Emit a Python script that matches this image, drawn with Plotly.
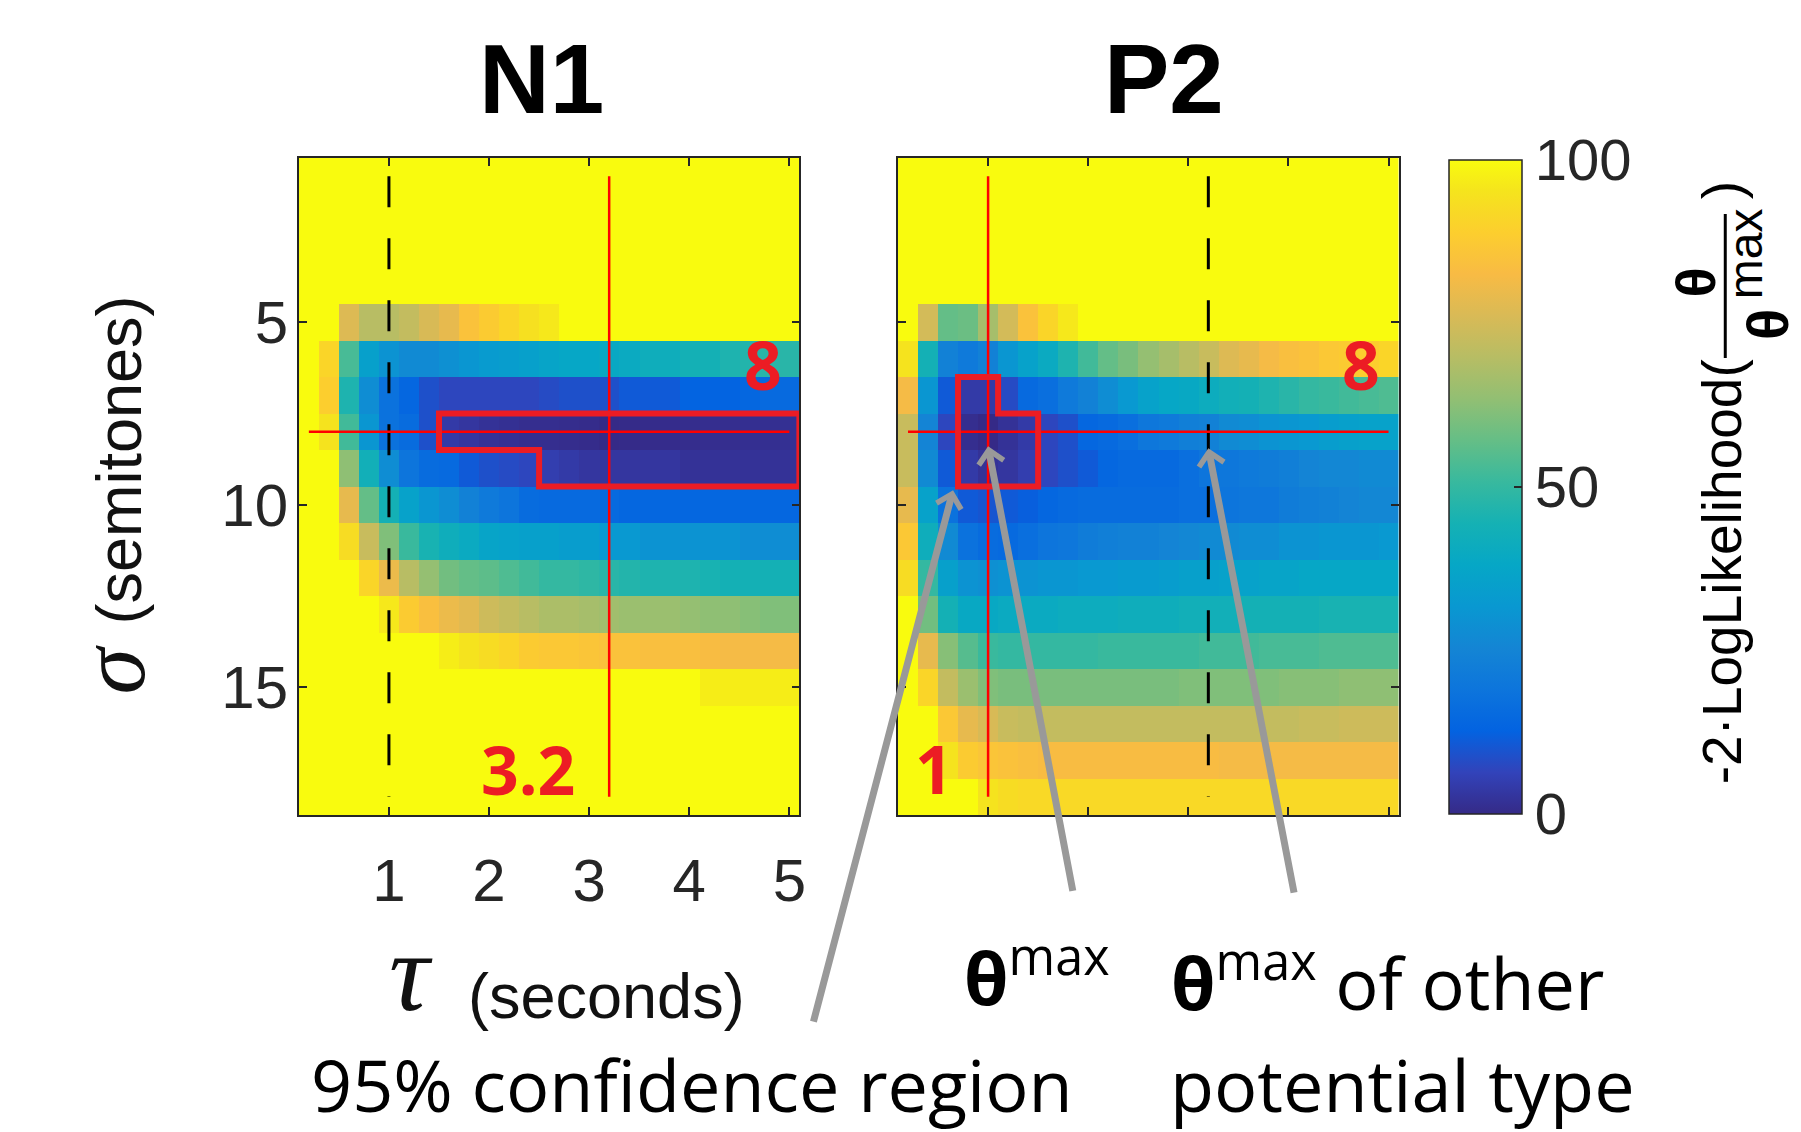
import plotly.graph_objects as go

W, H = 1801, 1132

# ---------------- data ----------------
tau = [0.2, 0.4, 0.6, 0.8, 1.0, 1.2, 1.4, 1.6, 1.8, 2.0, 2.2, 2.4, 2.6,
       2.8, 3.0, 3.2, 3.4, 3.6, 3.8, 4.0, 4.2, 4.4, 4.6, 4.8, 5.0]
sigma = [1, 2, 3, 4, 5, 6, 7, 8, 9, 10, 11, 12, 13, 14, 15, 16, 17, 18]
tau_ticks = [1, 2, 3, 4, 5]
sigma_ticks = [5, 10, 15]
cbar_ticks = [0, 50, 100]
ci_threshold = 5.99
panel_titles = ["N1", "P2"]

n1_z = [
    [100] * 25,
    [100] * 25,
    [100] * 25,
    [100] * 25,
    [100, 100, 77, 70, 70, 72, 76, 79, 85, 88, 91, 94, 96, 100, 100, 100, 100, 100, 100, 100, 100, 100, 100, 100, 100],
    [100, 91, 53, 35, 30, 27, 27, 29, 31, 33, 34, 35, 37, 38, 38, 39, 40, 42, 42, 44, 44, 46, 47, 48, 48],
    [100, 89, 46, 28, 18, 14, 9, 7, 7, 7, 7, 7, 8, 9, 9, 9, 11, 11, 11, 13, 13, 13, 14, 15, 15],
    [100, 95, 52, 31, 18, 16, 9, 4, 3, 2, 1.5, 1, 1, 0.8, 0.5, 0, 0.3, 0.5, 0.6, 0.8, 1, 1, 1.2, 1.3, 1.5],
    [100, 100, 63, 43, 28, 19, 16, 15, 11, 9, 8, 7, 5, 4, 3, 3, 3, 3, 3, 2, 2, 2, 2, 2, 2],
    [100, 100, 79, 57, 44, 36, 31, 28, 24, 21, 19, 16, 15, 15, 15, 15, 14, 14, 14, 14, 14, 14, 14, 14, 14],
    [100, 100, 93, 73, 61, 51, 45, 42, 40, 37, 36, 35, 35, 34, 34, 32, 32, 30, 30, 30, 30, 30, 28, 28, 28],
    [100, 100, 100, 91, 80, 70, 64, 59, 57, 56, 54, 52, 50, 50, 49, 48, 47, 46, 46, 46, 45, 44, 44, 44, 44],
    [100, 100, 100, 100, 96, 88, 84, 80, 78, 74, 72, 70, 68, 68, 67, 66, 65, 65, 65, 64, 63, 63, 62, 61, 61],
    [100, 100, 100, 100, 100, 100, 100, 97, 95, 93, 91, 88, 87, 87, 86, 85, 85, 84, 84, 84, 83, 82, 82, 82, 82],
    [100] * 20 + [97] * 5,
    [100] * 25,
    [100] * 25,
    [100] * 25,
]

p2_z = [
    [100] * 25,
    [100] * 25,
    [100] * 25,
    [100] * 25,
    [100, 75, 57, 58, 67, 75, 85, 91, 96, 100, 100, 100, 100, 100, 100, 100, 100, 100, 100, 100, 100, 100, 100, 100, 100],
    [95, 44, 24, 21, 24, 31, 36, 40, 46, 52, 57, 60, 64, 67, 70, 73, 77, 79, 82, 84, 85, 87, 88, 89, 91],
    [82, 31, 11, 4, 4, 8, 15, 17, 21, 24, 28, 32, 36, 38, 39, 41, 43, 44, 46, 48, 50, 51, 52, 53, 54],
    [73, 25, 7, 1, 0, 2, 4, 7, 9, 14, 15, 17, 20, 21, 23, 24, 27, 28, 30, 31, 32, 34, 35, 36, 36],
    [73, 27, 11, 4, 2, 3, 5, 7, 9, 11, 14, 15, 15, 15, 17, 19, 20, 21, 22, 23, 25, 26, 26, 27, 27],
    [79, 36, 18, 11, 10, 11, 12, 14, 15, 16, 16, 16, 16, 16, 17, 17, 19, 20, 20, 22, 23, 24, 25, 26, 26],
    [87, 42, 27, 18, 16, 15, 17, 19, 20, 22, 23, 24, 24, 25, 26, 27, 27, 28, 28, 30, 30, 31, 31, 31, 32],
    [93, 50, 35, 30, 29, 30, 30, 31, 31, 32, 32, 33, 33, 34, 35, 35, 36, 36, 37, 37, 38, 38, 38, 38, 38],
    [100, 59, 44, 39, 39, 40, 40, 40, 41, 41, 41, 42, 42, 42, 43, 43, 43, 44, 44, 44, 44, 45, 45, 45, 45],
    [100, 79, 62, 55, 51, 50, 50, 50, 50, 50, 51, 51, 51, 51, 51, 52, 52, 52, 53, 53, 53, 54, 54, 54, 54],
    [100, 91, 72, 65, 61, 60, 60, 60, 60, 60, 60, 60, 60, 60, 61, 61, 61, 61, 61, 62, 62, 62, 63, 63, 63],
    [100, 100, 87, 79, 76, 73, 72, 72, 72, 72, 72, 72, 72, 72, 72, 72, 72, 72, 72, 72, 73, 73, 74, 74, 74],
    [100, 100, 95, 88, 86, 85, 84, 83, 83, 83, 83, 83, 83, 83, 83, 83, 82, 82, 82, 82, 82, 82, 82, 82, 82],
    [100, 100, 100, 100, 95, 93, 92, 92, 92, 92, 92, 92, 92, 92, 92, 92, 92, 92, 92, 92, 92, 92, 92, 92, 92],
]

# ---------------- styles ----------------
PARULA = [
    (0.2081, 0.1663, 0.5292), (0.1959, 0.2645, 0.7279), (0.0117, 0.3875, 0.8820),
    (0.0498, 0.4586, 0.8641), (0.0793, 0.5200, 0.8312), (0.0343, 0.5966, 0.8199),
    (0.0228, 0.6535, 0.7768), (0.0843, 0.6928, 0.7062), (0.2178, 0.7250, 0.6193),
    (0.3953, 0.7459, 0.5244), (0.5709, 0.7485, 0.4494), (0.7184, 0.7411, 0.3905),
    (0.8507, 0.7299, 0.3360), (0.9739, 0.7314, 0.2666), (0.9880, 0.8066, 0.1794),
    (0.9589, 0.8949, 0.1132), (0.9763, 0.9831, 0.0538),
]
PARULA_POS = [0, 4, 8, 12, 16, 20, 24, 28, 32, 36, 40, 44, 48, 52, 56, 60, 63]
parula = [[p / 63.0, "rgb(%d,%d,%d)" % tuple(round(c * 255) for c in rgb)]
          for p, rgb in zip(PARULA_POS, PARULA)]

AX = "#262626"
RED = "#ff0000"
CI_RED = "#ec1c24"
SANS = "Liberation Sans"
SERIF = "Liberation Serif"
MYRIAD = "Open Sans"


def px(x, y):
    return x / W, 1 - y / H


def argmin_cell(z):
    v, i, j = min((v, i, j) for i, row in enumerate(z) for j, v in enumerate(row))
    return tau[j], sigma[i]


def ci_outline(z, thr):
    nr, nc = len(z), len(z[0])
    inside = [[z[i][j] < thr for j in range(nc)] for i in range(nr)]
    edges = {}

    def add(a, b):
        edges.setdefault(a, []).append(b)
        edges.setdefault(b, []).append(a)

    for i in range(nr):
        for j in range(nc):
            if not inside[i][j]:
                continue
            if i == 0 or not inside[i - 1][j]:
                add((j, i), (j + 1, i))
            if i == nr - 1 or not inside[i + 1][j]:
                add((j, i + 1), (j + 1, i + 1))
            if j == 0 or not inside[i][j - 1]:
                add((j, i), (j, i + 1))
            if j == nc - 1 or not inside[i][j + 1]:
                add((j + 1, i), (j + 1, i + 1))
    start = min(edges)
    path, prev, cur = [start], None, start
    while True:
        nb = edges[cur]
        nxt = nb[0] if nb[0] != prev else nb[1]
        if nxt == start:
            break
        path.append(nxt)
        prev, cur = cur, nxt
    path += [start, path[1]]
    dt = tau[1] - tau[0]
    ds = sigma[1] - sigma[0]
    xs = [tau[0] - dt / 2 + j * dt for j, i in path]
    ys = [sigma[0] - ds / 2 + i * ds for j, i in path]
    return xs, ys


fig = go.Figure()
panels = [(n1_z, "x", "y"), (p2_z, "x2", "y2")]
maxima = [argmin_cell(z) for z, _, _ in panels]

for k, (z, xa, ya) in enumerate(panels):
    fig.add_trace(go.Heatmap(x=tau, y=sigma, z=z, coloraxis="coloraxis",
                             xaxis=xa, yaxis=ya, hoverinfo="skip"))
    t_max, s_max = maxima[k]
    t_other = maxima[1 - k][0]
    fig.add_trace(go.Scatter(x=[t_other, t_other], y=[sigma[0], sigma[-1]], mode="lines",
                             line=dict(color="black", width=3, dash="31px,31px"),
                             xaxis=xa, yaxis=ya, showlegend=False, hoverinfo="skip"))
    fig.add_trace(go.Scatter(x=[t_max, t_max, None, tau[0], tau[-1]],
                             y=[sigma[0], sigma[-1], None, s_max, s_max], mode="lines",
                             line=dict(color=RED, width=2.5),
                             xaxis=xa, yaxis=ya, showlegend=False, hoverinfo="skip"))
    cx, cy = ci_outline(z, ci_threshold)
    fig.add_trace(go.Scatter(x=cx, y=cy, mode="lines", line=dict(color=CI_RED, width=6),
                             xaxis=xa, yaxis=ya, showlegend=False, hoverinfo="skip"))

axis_common = dict(showgrid=False, zeroline=False, showline=True, linecolor=AX, linewidth=1.5,
                   mirror="ticks", ticks="inside", ticklen=8, tickwidth=1.5, tickcolor=AX,
                   tickfont=dict(family=SANS, size=60, color=AX))
xr = [tau[0] - (tau[1] - tau[0]) / 2, tau[-1] + (tau[1] - tau[0]) / 2]
yr = [sigma[-1] + 0.5, sigma[0] - 0.5]
ydom = [1 - 815 / H, 1 - 158 / H]

fig.update_layout(
    width=W, height=H, margin=dict(l=0, r=0, t=0, b=0),
    paper_bgcolor="white", plot_bgcolor="white", showlegend=False,
    xaxis=dict(domain=[300 / W, 802.5 / W], range=xr, tickvals=tau_ticks, anchor="y",
               ticklabelstandoff=12, **axis_common),
    yaxis=dict(domain=ydom, range=yr, tickvals=sigma_ticks, anchor="x",
               ticklabelstandoff=-3, **axis_common),
    xaxis2=dict(domain=[901.5 / W, 1404 / W], range=xr, tickvals=tau_ticks, anchor="y2",
                showticklabels=False, **axis_common),
    yaxis2=dict(domain=ydom, range=yr, tickvals=sigma_ticks, anchor="x2",
                showticklabels=False, **axis_common),
    coloraxis=dict(
        colorscale=parula, cmin=cbar_ticks[0], cmax=cbar_ticks[-1],
        colorbar=dict(x=1455 / W, xanchor="left", xpad=0, y=1 - 160 / H, yanchor="top", ypad=0,
                      thickness=73, thicknessmode="pixels", len=654, lenmode="pixels",
                      outlinewidth=1.5, outlinecolor=AX, tickvals=cbar_ticks,
                      ticks="inside", ticklen=8, tickwidth=1.5, tickcolor=AX,
                      tickfont=dict(family=SANS, size=58, color=AX)),
    ),
)

annotations = []


def ann(text, x, y, size, family, color="black", angle=0, xanchor="center", yanchor="middle"):
    ax_, ay_ = px(x, y)
    annotations.append(dict(text=text, x=ax_, y=ay_, xref="paper", yref="paper",
                            showarrow=False, textangle=angle, xanchor=xanchor, yanchor=yanchor,
                            font=dict(family=family, size=size, color=color)))


# panel titles
ann("<b>%s</b>" % panel_titles[0], 544, 79, 98, SANS)
ann("<b>%s</b>" % panel_titles[1], 1169, 79, 98, SANS)

# axis labels
ann("<i>σ</i>", 112, 670, 94, SERIF, color="#111111", angle=-90)
ann("(semitones)", 119, 460, 63, SANS, color="#111111", angle=-90)
ann("<i>τ</i>", 413, 972, 112, SERIF, color="#111111")
ann("(seconds)", 609, 996, 63, SANS, color="#111111")

# red value labels
(t1, s1), (t2, s2) = maxima
ann("<b>%g</b>" % s1, 766, 364, 66, MYRIAD, color=CI_RED)
ann("<b>%g</b>" % t1, 530, 769, 66, MYRIAD, color=CI_RED)
ann("<b>%g</b>" % s2, 1366, 364, 66, MYRIAD, color=CI_RED)
ann("<b>%g</b>" % t2, 938, 768, 66, MYRIAD, color=CI_RED)

# colorbar title  -2·LogLikelihood(θ / θ^max)
ann("-2·LogLikelihood(", 1729, 572, 55, SANS, angle=-90)
ann(")", 1729, 190, 55, SANS, angle=-90)
ann("<b>θ</b>", 1702, 282, 56, SANS, angle=-90)
ann("<b>θ</b>", 1774, 325, 58, SANS, angle=-90)
ann("max", 1752, 254, 48, SANS, angle=-90)

# explanatory texts
ann("95% confidence region", 695, 1084, 72, MYRIAD)
ann("potential type", 1408, 1084, 72, MYRIAD)
ann("<b>θ</b><sup>max</sup>", 966, 1028, 72, MYRIAD, xanchor="left", yanchor="bottom")
ann("<b>θ</b><sup>max</sup> of other", 1174, 1033, 72, MYRIAD, xanchor="left", yanchor="bottom")

# gray arrows (heads in P2 data coordinates)
arrows = [
    (0.65, 9.6, -140, 533),
    (t2, s2 + 0.4, 85, 446),
    (t1, s1 + 0.45, 86, 446),
]
for hx, hy, dx, dy in arrows:
    annotations.append(dict(text="", x=hx, y=hy, xref="x2", yref="y2", showarrow=True,
                            ax=dx, ay=dy, arrowhead=4, arrowsize=0.7, arrowwidth=7,
                            arrowcolor="#999999", standoff=0))

fig.update_layout(annotations=annotations)

# fraction bar of the colorbar title
fx, fy0 = px(1732, 214)
_, fy1 = px(1732, 358)
fig.add_shape(type="line", xref="paper", yref="paper", x0=fx, x1=fx, y0=fy0, y1=fy1,
              line=dict(color="black", width=3))

fig.write_html("out.html")
